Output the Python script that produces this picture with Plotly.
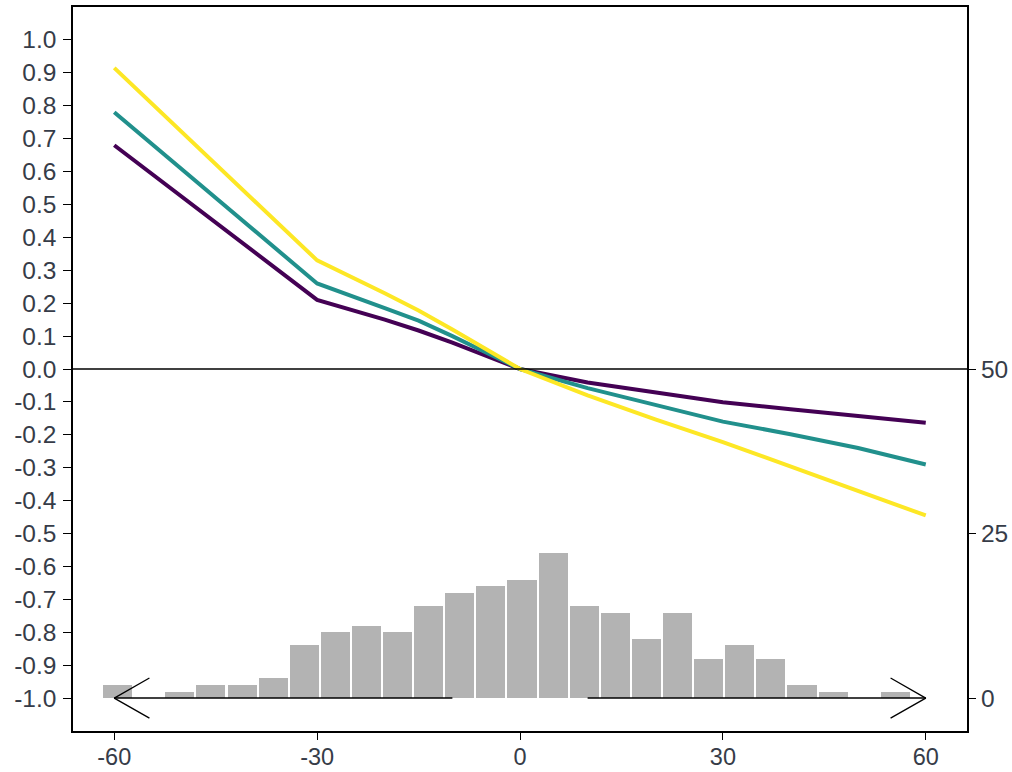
import plotly.graph_objects as go

# ---- data ----
x_pts = [-60, -30, -20, -15, -10, 0, 10, 20, 30, 40, 50, 60]
y_purple = [0.68, 0.21, 0.15, 0.117, 0.08, 0.0, -0.041, -0.072, -0.101, -0.122, -0.142, -0.163]
y_teal = [0.78, 0.26, 0.185, 0.147, 0.10, 0.0, -0.058, -0.11, -0.16, -0.198, -0.24, -0.29]
y_yellow = [0.915, 0.33, 0.23, 0.178, 0.12, 0.0, -0.08, -0.153, -0.222, -0.296, -0.37, -0.445]

hist_centers = [-59.5, -54.9, -50.3, -45.7, -41.1, -36.5, -31.9, -27.3, -22.7, -18.1, -13.5, -8.9, -4.3,
                0.3, 4.9, 9.5, 14.1, 18.7, 23.3, 27.9, 32.5, 37.1, 41.7, 46.3, 50.9, 55.5]
hist_counts = [2, 0, 1, 2, 2, 3, 8, 10, 11, 10, 14, 16, 17,
               18, 22, 14, 13, 9, 13, 6, 8, 6, 2, 1, 0, 1]
hist_bin_width = 4.3

x_ticks = [-60, -30, 0, 30, 60]
x_ticklabels = ["-60", "-30", "0", "30", "60"]
y_ticks = [-1.0, -0.9, -0.8, -0.7, -0.6, -0.5, -0.4, -0.3, -0.2, -0.1, 0.0,
           0.1, 0.2, 0.3, 0.4, 0.5, 0.6, 0.7, 0.8, 0.9, 1.0]
y_ticklabels = ["%.1f" % abs(v) if v == 0 else "%.1f" % v for v in y_ticks]
y2_ticks = [0, 25, 50]

# arrows along count 0 (histogram axis): (start, tip)
arrow_left = (-10, -60)
arrow_right = (10, 60)
head_dx = 5.2
head_dy = 3.05
arrow_count = 0

colors = {"purple": "#440154", "teal": "#21908C", "yellow": "#FDE725"}
font_color = "#363c48"

fig = go.Figure()

fig.add_trace(go.Bar(
    x=hist_centers, y=hist_counts, width=hist_bin_width, yaxis="y2",
    marker=dict(color="#b3b3b3", line=dict(width=0)),
    showlegend=False, hoverinfo="skip"))

for start, tip in [arrow_left, arrow_right]:
    sgn = 1 if tip < start else -1
    fig.add_trace(go.Scatter(x=[start, tip], y=[arrow_count, arrow_count], mode="lines",
                             yaxis="y2", line=dict(color="black", width=1.5), showlegend=False))
    fig.add_trace(go.Scatter(
        x=[tip + sgn * head_dx, tip, tip + sgn * head_dx],
        y=[arrow_count + head_dy, arrow_count, arrow_count - head_dy], mode="lines",
        yaxis="y2", line=dict(color="black", width=1.3), showlegend=False))

for ys, c in [(y_purple, "purple"), (y_teal, "teal"), (y_yellow, "yellow")]:
    fig.add_trace(go.Scatter(x=x_pts, y=ys, mode="lines",
                             line=dict(color=colors[c], width=4),
                             showlegend=False))

# zero line
fig.add_shape(type="line", xref="paper", x0=0, x1=1, yref="y", y0=0, y1=0,
              line=dict(color="black", width=1.5))

axis_font = dict(family="Liberation Sans, Arial", size=24.5, color=font_color)
x_font = dict(family="Liberation Sans, Arial", size=23.5, color=font_color)

fig.update_layout(
    width=1012, height=772,
    margin=dict(l=73, r=45, t=7, b=41, autoexpand=False),
    paper_bgcolor="white", plot_bgcolor="white",
    bargap=0,
    xaxis=dict(range=[-66.1, 66.1], tickvals=x_ticks, ticktext=x_ticklabels,
               ticks="outside", ticklen=7, automargin=False, ticklabelstandoff=-3,
               tickcolor="black", tickwidth=1.3, showgrid=False, zeroline=False,
               showline=True, linecolor="black", linewidth=1.5, mirror=True,
               tickfont=x_font),
    yaxis=dict(range=[-1.1, 1.1], tickvals=y_ticks, ticktext=y_ticklabels,
               ticks="outside", ticklen=8, tickcolor="black", tickwidth=1.3,
               automargin=False, ticklabelstandoff=2,
               showgrid=False, zeroline=False, showline=True, linecolor="black",
               linewidth=1.5, mirror=True, tickfont=axis_font),
    yaxis2=dict(range=[-5, 105], overlaying="y", side="right", tickvals=y2_ticks,
                ticks="outside", ticklen=8, tickcolor="black", tickwidth=1.3,
                automargin=False,
                showgrid=False, zeroline=False, showline=False, tickfont=axis_font),
)

fig.write_html("out.html", config={"displayModeBar": False},
               post_script="document.body.style.margin='0px';")
